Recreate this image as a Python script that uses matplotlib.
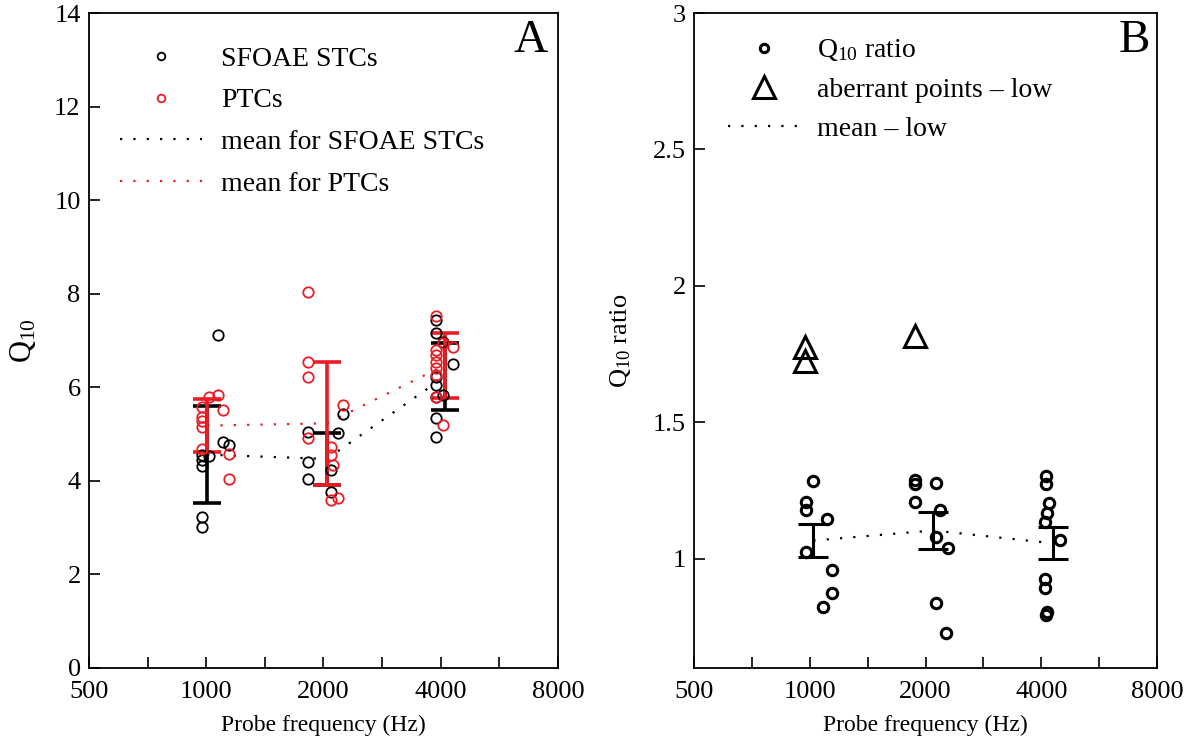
import matplotlib
matplotlib.use("Agg")
import matplotlib.pyplot as plt
from matplotlib.ticker import FixedLocator, NullFormatter
from matplotlib.lines import Line2D

plt.rcParams['font.family'] = ['Liberation Serif', 'DejaVu Serif']
plt.rcParams['mathtext.fontset'] = 'custom'
plt.rcParams['mathtext.rm'] = 'Liberation Serif'
plt.rcParams['mathtext.it'] = 'Liberation Serif'

# ---------------- Panel A data ----------------
sfoae_f = [975, 1018, 975, 975, 975, 975, 1072, 1104, 1144,
           1825, 1825, 1825, 2091, 2091, 2180, 2244,
           3890, 3890, 3890, 3890, 3890, 3890, 3890, 4053, 4053, 4300]
sfoae_q = [4.55, 4.53, 4.44, 4.32, 3.23, 3.01, 7.12, 4.83, 4.77,
           5.04, 4.41, 4.04, 4.23, 3.76, 5.02, 5.43,
           7.43, 7.15, 6.22, 6.05, 5.79, 5.34, 4.94, 6.97, 5.83, 6.50]
ptc_f = [1072, 1018, 975, 1104, 975, 975, 975, 975, 1144, 1144,
         1825, 1825, 1825, 1825, 2091, 2091, 2110, 2091, 2180, 2244,
         3890, 3890, 3890, 3890, 3890, 3890, 3890, 4053, 4300, 4053]
ptc_q = [5.83, 5.79, 5.58, 5.51, 5.36, 5.28, 5.15, 4.68, 4.57, 4.04,
         8.04, 6.53, 6.22, 4.91, 4.73, 4.55, 4.33, 3.60, 3.64, 5.62,
         7.52, 6.79, 6.69, 6.54, 6.41, 6.26, 5.79, 6.94, 6.86, 5.19]
mean_f_A = [1005, 2040, 4100]
sfoae_mean = [4.56, 4.47, 6.23]
sfoae_err = [1.04, 0.55, 0.72]
ptc_mean = [5.18, 5.23, 6.47]
ptc_err = [0.56, 1.31, 0.69]

# ---------------- Panel B data ----------------
ratio_f = [1020, 978, 978, 1109, 978, 1142, 1142, 1082,
           1878, 1878, 2130, 1878, 2181, 2130, 2288, 2130, 2261,
           4115, 4115, 4180, 4150, 4100, 4475, 4100, 4100, 4150, 4120]
ratio_q = [1.286, 1.209, 1.180, 1.147, 1.026, 0.960, 0.875, 0.824,
           1.290, 1.275, 1.279, 1.209, 1.180, 1.080, 1.040, 0.839, 0.729,
           1.305, 1.275, 1.205, 1.168, 1.136, 1.070, 0.927, 0.894, 0.805, 0.795]
aberr_f = [970, 970, 1878]
aberr_q = [1.775, 1.725, 1.815]
mean_f_B = [1022, 2094, 4290]
ratio_mean = [1.067, 1.104, 1.057]
ratio_err = [0.061, 0.068, 0.058]

xticks_major = [500, 1000, 2000, 4000, 8000]
xticks_minor = [707, 1414, 2828, 5657]

RED = '#ec1c24'

fig = plt.figure(figsize=(12, 7.41), dpi=100)
axA = fig.add_axes([89/1200, 73/741, 469/1200, 655/741])
axB = fig.add_axes([694/1200, 73/741, 463/1200, 655/741])

FS = 19
LFS = 20


def style(ax):
    ax.set_xscale('log')
    ax.set_xlim(500, 8000)
    ax.xaxis.set_major_locator(FixedLocator(xticks_major))
    ax.xaxis.set_minor_locator(FixedLocator(xticks_minor))
    ax.xaxis.set_minor_formatter(NullFormatter())
    ax.set_xticklabels([str(t) for t in xticks_major])
    ax.tick_params(which='both', direction='in', length=8, width=1.2,
                   top=False, right=False, labelsize=FS)
    ax.tick_params(axis='x', which='both', pad=9)
    ax.tick_params(axis='y', which='both', pad=6)
    for s in ax.spines.values():
        s.set_linewidth(1.3)
    ax.set_xlabel('Probe frequency (Hz)', fontsize=17, labelpad=9)


dot = (0, (1, 5))

# Panel A
axA.plot(mean_f_A, sfoae_mean, color='black', linestyle=dot, lw=1.6, zorder=1)
axA.plot(mean_f_A, ptc_mean, color=RED, linestyle=dot, lw=1.6, zorder=1)
axA.errorbar(mean_f_A, sfoae_mean, yerr=sfoae_err, fmt='none', ecolor='black',
             elinewidth=2.6, capsize=10, capthick=2.6, zorder=2)
axA.errorbar(mean_f_A, ptc_mean, yerr=ptc_err, fmt='none', ecolor=RED,
             elinewidth=2.6, capsize=10, capthick=2.6, zorder=3)
axA.plot(sfoae_f, sfoae_q, 'o', mfc='none', mec='black', ms=7.5, mew=1.3,
         linestyle='none', zorder=4)
axA.plot(ptc_f, ptc_q, 'o', mfc='none', mec=RED, ms=7.5, mew=1.3,
         linestyle='none', zorder=4)
style(axA)
axA.set_ylim(0, 14)
axA.set_yticks(range(0, 15, 2))
axA.set_ylabel('Q$_{10}$', fontsize=22, labelpad=12)
axA.text(0.979, 0.99, 'A', transform=axA.transAxes, ha='right', va='top',
         fontsize=34)
handlesA = [
    Line2D([], [], marker='o', ls='none', mfc='none', mec='black', ms=5.5, mew=1.3),
    Line2D([], [], marker='o', ls='none', mfc='none', mec=RED, ms=5.5, mew=1.3),
    Line2D([], [], color='black', ls=dot, lw=1.6),
    Line2D([], [], color=RED, ls=dot, lw=1.6),
]
labelsA = ['SFOAE STCs', 'PTCs', 'mean for SFOAE STCs', 'mean for PTCs']
axA.legend(handlesA, labelsA, loc='upper left', bbox_to_anchor=(0.066, 0.949),
           frameon=False, fontsize=LFS, handlelength=2.95, handletextpad=0.7,
           labelspacing=0.58, borderpad=0, borderaxespad=0)

# Panel B
axB.plot(mean_f_B, ratio_mean, color='black', linestyle=dot, lw=1.6, zorder=1)
axB.errorbar(mean_f_B, ratio_mean, yerr=ratio_err, fmt='none', ecolor='black',
             elinewidth=2.2, capsize=10.5, capthick=2.2, zorder=2)
axB.plot(ratio_f, ratio_q, 'o', mfc='none', mec='black', ms=7.5, mew=2.2,
         linestyle='none', zorder=4)
axB.plot(aberr_f, aberr_q, '^', mfc='none', mec='black', ms=16, mew=2.2,
         linestyle='none', zorder=4)
style(axB)
axB.set_ylim(0.6, 3)
axB.set_yticks([1, 1.5, 2, 2.5, 3])
axB.set_yticklabels(['1', '1.5', '2', '2.5', '3'])
axB.set_ylabel('Q$_{10}$ ratio', fontsize=19, labelpad=14)
axB.text(0.985, 0.99, 'B', transform=axB.transAxes, ha='right', va='top',
         fontsize=34)
handlesB = [
    Line2D([], [], marker='o', ls='none', mfc='none', mec='black', ms=6, mew=2.2),
    Line2D([], [], marker='^', ls='none', mfc='none', mec='black', ms=16, mew=2.2),
    Line2D([], [], color='black', ls=dot, lw=1.6),
]
labelsB = ['Q$_{10}$ ratio', 'aberrant points \u2013 low', 'mean \u2013 low']
axB.legend(handlesB, labelsB, loc='upper left', bbox_to_anchor=(0.073, 0.963),
           frameon=False, fontsize=LFS, handlelength=2.6, handletextpad=0.6,
           labelspacing=0.5, borderpad=0, borderaxespad=0)

fig.savefig('out.png', dpi=100)
